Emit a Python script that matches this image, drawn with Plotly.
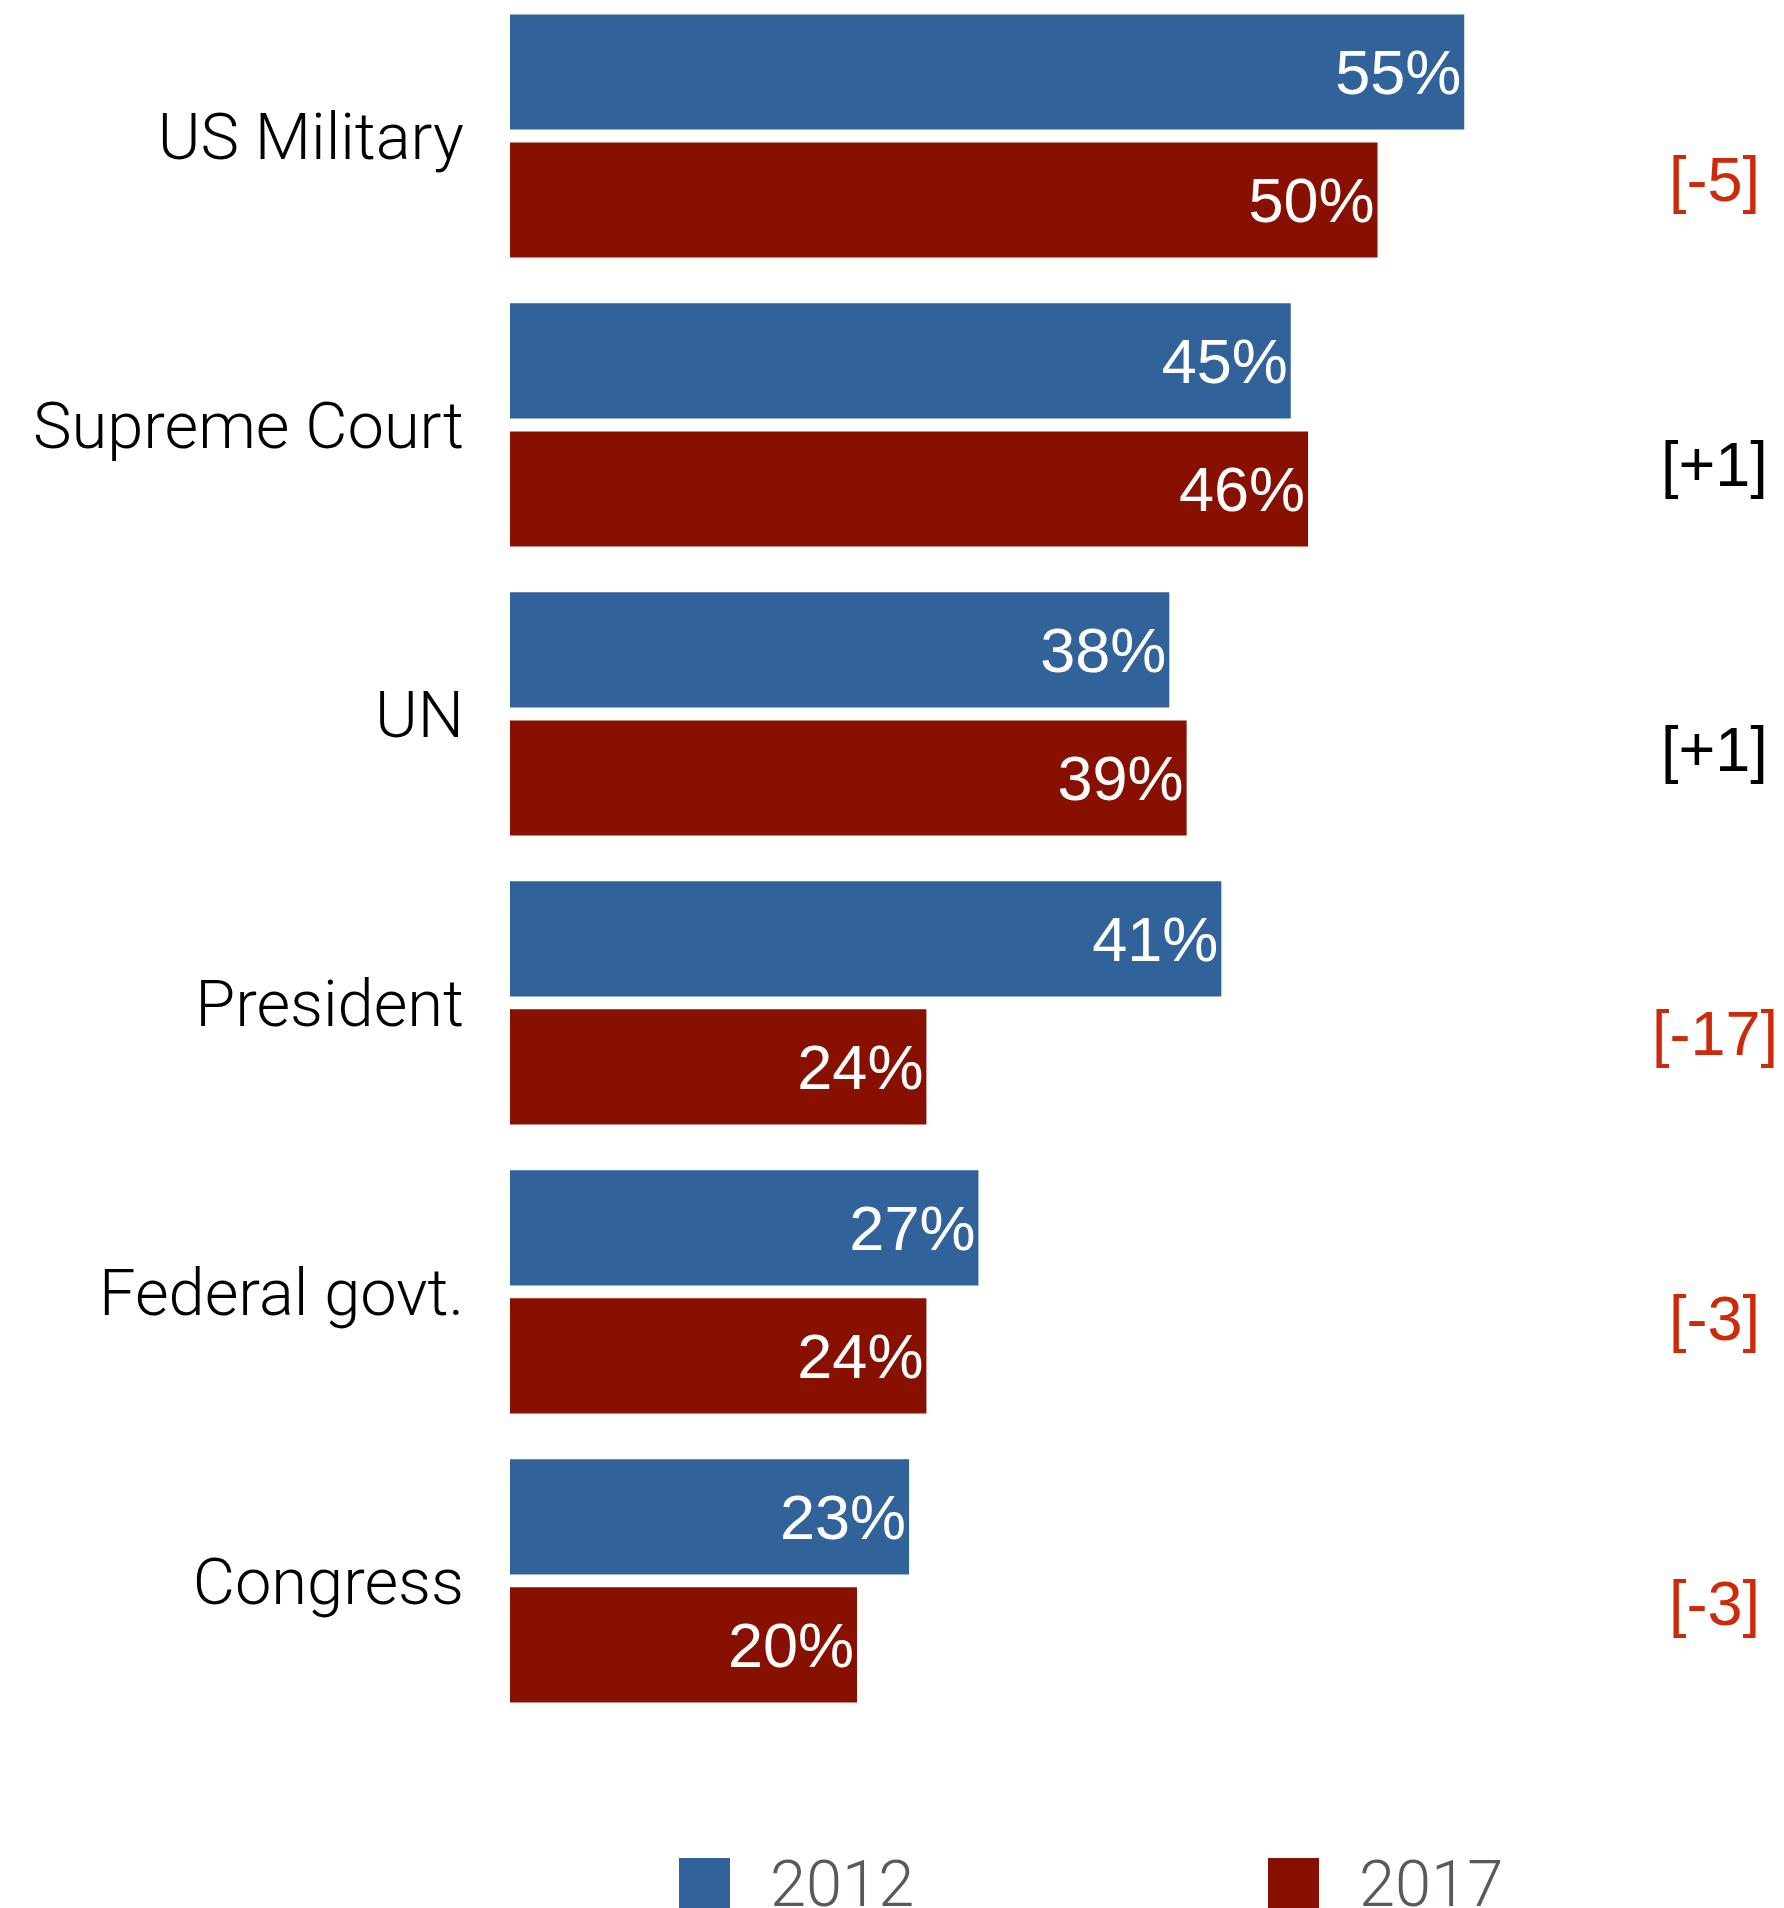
import plotly.graph_objects as go

categories = ["US Military", "Supreme Court", "UN", "President", "Federal govt.", "Congress"]
values_2012 = [55, 45, 38, 41, 27, 23]
values_2017 = [50, 46, 39, 24, 24, 20]
change_labels = ["[-5]", "[+1]", "[+1]", "[-17]", "[-3]", "[-3]"]
series_names = ["2012", "2017"]

BLUE = "#31639a"
RED = "#871000"
POS_RED = "#cc2a0a"

fig = go.Figure()
for name, vals, col in [(series_names[0], values_2012, BLUE), (series_names[1], values_2017, RED)]:
    fig.add_trace(go.Bar(
        y=categories, x=vals, orientation="h", name=name,
        marker=dict(color=col, line=dict(width=0)),
        texttemplate="%{x}%", textposition="inside", insidetextanchor="end",
        textangle=0, constraintext="none",
        textfont=dict(color="white", size=63, family="Liberation Sans, Arial, sans-serif"),
        showlegend=False, hoverinfo="skip",
    ))

# change annotations at right
for i, lab in enumerate(change_labels):
    col = POS_RED if lab.startswith("[-") else "#000000"
    fig.add_annotation(x=69.45, y=i * 0.985 + 0.15, xref="x", yref="y", text=lab,
                       showarrow=False, xanchor="center", yanchor="middle",
                       font=dict(size=63, color=col, family="Liberation Sans, Arial, sans-serif"))

# manual legend
leg_x = [679, 1268]
for name, col, lx in zip(series_names, [BLUE, RED], leg_x):
    fig.add_shape(type="rect", xref="paper", yref="paper",
                  x0=(lx - 510) / 1274, x1=(lx + 51 - 510) / 1274,
                  y0=-(1909 - 1750) / 1750, y1=-(1858 - 1750) / 1750,
                  fillcolor=col, line=dict(width=0))
    fig.add_annotation(x=(lx + 89 - 510) / 1274, y=-(1884 - 1750) / 1750, xref="paper", yref="paper",
                       text=name, showarrow=False, xanchor="left", yanchor="middle",
                       font=dict(size=65, color="#555a5f", family="Roboto, Liberation Sans, sans-serif", weight=300))

fig.update_layout(
    width=1784, height=1908,
    margin=dict(l=510, r=0, t=0, b=158),
    barmode="group", bargap=0.114, bargroupgap=0.1,
    plot_bgcolor="white", paper_bgcolor="white",
    xaxis=dict(range=[0, 73.43], visible=False),
    yaxis=dict(categoryorder="array", categoryarray=categories,
               range=[5.585, -0.4706], showgrid=False, zeroline=False, showline=False,
               ticks="", ticklabelstandoff=45,
               tickfont=dict(size=65, color="#000000", family="Roboto, Liberation Sans, sans-serif", weight=300)),
)

fig.write_html("out.html")
